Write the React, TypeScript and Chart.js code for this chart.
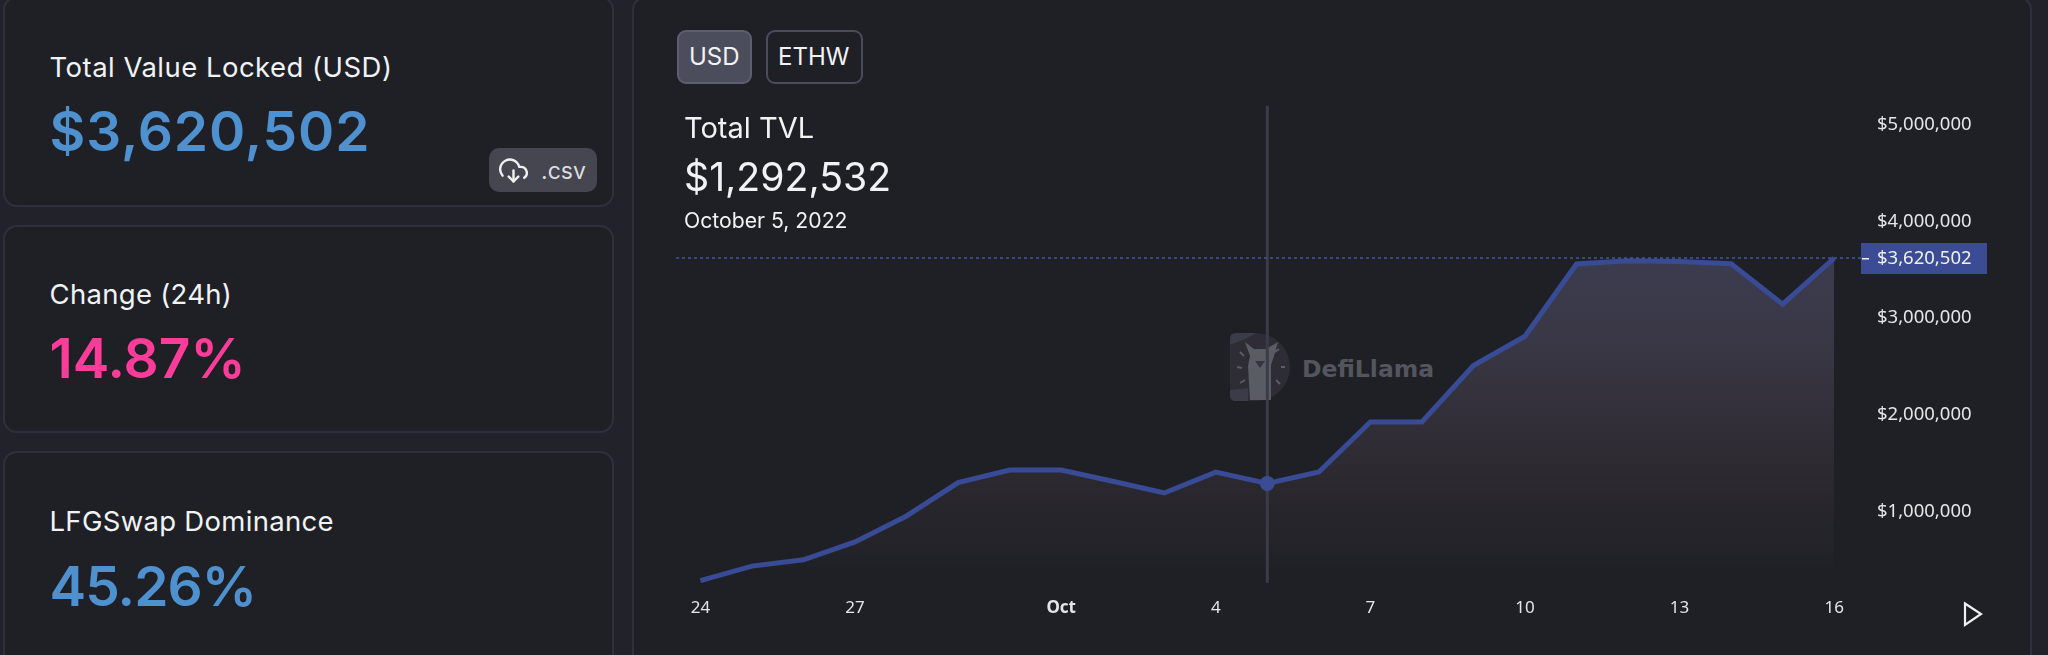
import React, { useEffect, useRef } from "react";
import { Chart, registerables } from "chart.js";

Chart.register(...registerables);

const dayLabels = ["24","25","26","27","28","29","30","Oct","2","3","4","5","6","7","8","9","10","11","12","13","14","15","16"];
const tvlValues = [287000,438000,503000,688000,956000,1301000,1431000,1431000,1314000,1193000,1409000,1292532,1410000,1927000,1927000,2510000,2812000,3559000,3593000,3584000,3562000,3144000,3620502];
const xTickIndexes = [0,3,7,10,13,16,19,22];
const yTickValues = [1000000,2000000,3000000,4000000,5000000];
const cursorIndex = 11;
const currentValue = 3620502;
const currentLabel = "$3,620,502";

const statCards = [
  { title: "Total Value Locked (USD)", value: "$3,620,502", color: "#4f90cf", top: -4, height: 211, titleY: 67, valueY: 131, titleSp: 0.47, valueSp: 0.9 },
  { title: "Change (24h)", value: "14.87%", color: "#fd3c99", top: 225, height: 208, titleY: 293.5, valueY: 358, titleSp: 0.3, valueSp: 0 },
  { title: "LFGSwap Dominance", value: "45.26%", color: "#4f90cf", top: 451, height: 230, titleY: 521, valueY: 586, titleSp: 0.3, valueSp: -0.9 },
];

const UI = "Inter, 'Noto Sans', sans-serif";
const AXIS = "'Noto Sans', sans-serif";
const LINE = "#384b94";

function Text(p: { x: number; y: number; size: number; color?: string; weight?: number; spacing?: number; children: any }) {
  return (
    <div style={{ position: "absolute", left: p.x, top: p.y - 40, height: 80, lineHeight: "80px", fontFamily: UI, fontSize: p.size, fontWeight: p.weight ?? 400, color: p.color ?? "#f1f2f4", letterSpacing: p.spacing ?? 0, whiteSpace: "nowrap" }}>
      {p.children}
    </div>
  );
}

const overlay = {
  id: "overlay",
  beforeDatasetsDraw(chart: any) {
    const { ctx, chartArea: a, scales } = chart;
    const x = scales.x.getPixelForValue(cursorIndex);
    ctx.save();
    ctx.strokeStyle = "#3b3c48";
    ctx.lineWidth = 3;
    ctx.beginPath();
    ctx.moveTo(x, a.top);
    ctx.lineTo(x, a.bottom);
    ctx.stroke();
    ctx.restore();
  },
  afterDatasetsDraw(chart: any) {
    const { ctx, chartArea: a, scales } = chart;
    const y = Math.round(scales.y.getPixelForValue(currentValue));
    ctx.save();
    ctx.strokeStyle = "#46559f";
    ctx.lineWidth = 1.5;
    ctx.setLineDash([3, 3]);
    ctx.beginPath();
    ctx.moveTo(a.left, y);
    ctx.lineTo(a.right, y);
    ctx.stroke();
    ctx.setLineDash([]);
    ctx.fillStyle = "#3b4c94";
    ctx.fillRect(a.right, y - 15, 126, 31);
    ctx.fillStyle = "#eef0f6";
    ctx.fillRect(a.right + 1, y, 7, 1.5);
    ctx.font = "18.5px " + AXIS;
    ctx.textBaseline = "middle";
    ctx.textAlign = "left";
    ctx.fillText(currentLabel, a.right + 16, y + 1);
    ctx.restore();
  },
};

function fillGradient(c: any) {
  const { chart } = c;
  const { ctx, chartArea, scales } = chart;
  if (!chartArea) return "transparent";
  const top = scales.y.getPixelForValue(currentValue);
  const g = ctx.createLinearGradient(0, top, 0, 567);
  g.addColorStop(0, "rgba(60,60,80,1)");
  g.addColorStop(0.25, "rgba(58,56,70,1)");
  g.addColorStop(0.7, "rgba(44,41,48,1)");
  g.addColorStop(0.999, "rgba(32,33,38,1)");
  g.addColorStop(1, "rgba(32,33,38,0)");
  return g;
}

export default function App() {
  const ref = useRef<HTMLCanvasElement>(null);
  useEffect(() => {
    document.body.style.margin = "0";
    document.body.style.background = "#22232a";
    const chart = new Chart(ref.current!, {
      type: "line",
      data: {
        datasets: [{
          data: tvlValues.map((y, x) => ({ x, y })),
          borderColor: LINE,
          borderWidth: 5,
          borderJoinStyle: "miter",
          tension: 0,
          fill: "origin",
          backgroundColor: fillGradient,
          pointRadius: tvlValues.map((_, i) => (i === cursorIndex ? 7.5 : 0)),
          pointBackgroundColor: "#3b4c94",
          pointBorderWidth: 0,
          clip: false as any,
        }],
      },
      plugins: [overlay],
      options: {
        animation: false,
        responsive: false,
        devicePixelRatio: 1,
        layout: { padding: { left: 676, top: 105.7, right: 0, bottom: 0 } },
        plugins: { legend: { display: false }, tooltip: { enabled: false }, filler: { drawTime: "beforeDatasetsDraw" } },
        scales: {
          x: {
            type: "linear",
            min: -0.474,
            max: 22.52,
            grid: { display: false, drawTicks: false },
            border: { display: false },
            afterFit: (s: any) => { s.height = 72.3; },
            afterBuildTicks: (s: any) => { s.ticks = xTickIndexes.map((value) => ({ value })); },
            ticks: {
              autoSkip: false,
              maxRotation: 0,
              color: "#e4e5e8",
              padding: 15,
              callback: (v: any) => dayLabels[v],
              font: (c: any) => ({ family: AXIS, size: 17, weight: c.tick && dayLabels[c.tick.value] === "Oct" ? 700 : 400 }),
            },
          },
          y: {
            position: "right",
            min: 266500,
            max: 5194000,
            grid: { display: false, drawTicks: false },
            border: { display: false },
            afterFit: (s: any) => { s.width = 187; },
            afterBuildTicks: (s: any) => { s.ticks = yTickValues.map((value) => ({ value })); },
            ticks: {
              color: "#e4e5e8",
              padding: 16,
              font: { family: AXIS, size: 18.5 },
              callback: (v: any) => "$" + Number(v).toLocaleString("en-US"),
            },
          },
        },
      } as any,
    });
    return () => chart.destroy();
  }, []);

  const rays = [[1240,352,1244,356],[1237,367,1242,368],[1240,383,1245,380],[1275,352,1279,349],[1281,367,1285,367],[1276,380,1280,384]];

  return (
    <div style={{ position: "absolute", left: 0, top: 0, width: 2048, height: 655, overflow: "hidden", background: "#22232a" }}>
      {statCards.map((c) => (
        <React.Fragment key={c.title}>
          <div style={{ position: "absolute", boxSizing: "border-box", left: 3, top: c.top, width: 611, height: c.height, background: "#1f2026", border: "2px solid #2f303c", borderRadius: 14 }} />
          <Text x={49.5} y={c.titleY} size={27.5} spacing={c.titleSp}>{c.title}</Text>
          <Text x={49.5} y={c.valueY} size={55} weight={600} color={c.color} spacing={c.valueSp}>{c.value}</Text>
        </React.Fragment>
      ))}

      <div style={{ position: "absolute", left: 489, top: 148, width: 108, height: 44, background: "#45464f", borderRadius: 10 }} />
      <svg style={{ position: "absolute", left: 499, top: 156 }} width="29" height="29" viewBox="0 0 24 24" fill="none" stroke="#f0f0f2" strokeWidth="2" strokeLinecap="round" strokeLinejoin="round">
        <polyline points="8 17 12 21 16 17" />
        <line x1="12" y1="12" x2="12" y2="21" />
        <path d="M20.88 18.09A5 5 0 0 0 18 9h-1.26A8 8 0 1 0 3 16.29" />
      </svg>
      <Text x={541} y={171} size={23} color="#dcdde0">.csv</Text>

      <div style={{ position: "absolute", boxSizing: "border-box", left: 632, top: -4, width: 1400, height: 700, background: "#1f2026", border: "2px solid #2f303c", borderRadius: 14 }} />

      <div style={{ position: "absolute", boxSizing: "border-box", left: 677, top: 30, width: 75, height: 54, background: "#4c4d5c", border: "2px solid #5d5e70", borderRadius: 9 }} />
      <Text x={689} y={57} size={24}>USD</Text>
      <div style={{ position: "absolute", boxSizing: "border-box", left: 766, top: 30, width: 97, height: 54, border: "2px solid #4a4b5c", borderRadius: 9 }} />
      <Text x={778} y={57} size={24}>ETHW</Text>

      <svg style={{ position: "absolute", left: 1225, top: 328 }} width="215" height="78" viewBox="1225 328 215 78">
        <path d="M1236 333H1256A34 34 0 0 1 1256 401H1236Q1230 401 1230 395V339Q1230 333 1236 333Z" fill="#2e2d36" />
        <path d="M1236 333H1256Q1245 340 1232 344H1230V339Q1230 333 1236 333Z" fill="#3b3c47" />
        <path d="M1230 390L1248 388V401H1236Q1230 401 1230 395Z" fill="#3b3c47" />
        <path d="M1245 342L1254 349H1266L1278 342L1274 356L1271 365V400H1250L1248 366L1250 356Z" fill="#5a5c64" />
        <path d="M1255 361L1265 361L1260 368Z" fill="#34343e" />
        {rays.map((r, i) => <line key={i} x1={r[0]} y1={r[1]} x2={r[2]} y2={r[3]} stroke="#5a5c64" strokeWidth="2" />)}
        <text x="1302" y="377" fontFamily="'DejaVu Sans'" fontWeight="700" fontSize="23.5" fill="#54555e">DefiLlama</text>
      </svg>

      <canvas ref={ref} width={2048} height={655} style={{ position: "absolute", left: 0, top: 0, width: 2048, height: 655, display: "block" }} />

      <Text x={684} y={127.5} size={29}>Total TVL</Text>
      <Text x={684} y={176.5} size={39.2}>$1,292,532</Text>
      <Text x={684} y={219.5} size={21.2}>October 5, 2022</Text>

      <svg style={{ position: "absolute", left: 1960, top: 600 }} width="26" height="28" viewBox="0 0 26 28">
        <path d="M5 3.5L21 14L5 25Z" fill="none" stroke="#eef0f2" strokeWidth="2.2" strokeLinejoin="miter" />
      </svg>
    </div>
  );
}
